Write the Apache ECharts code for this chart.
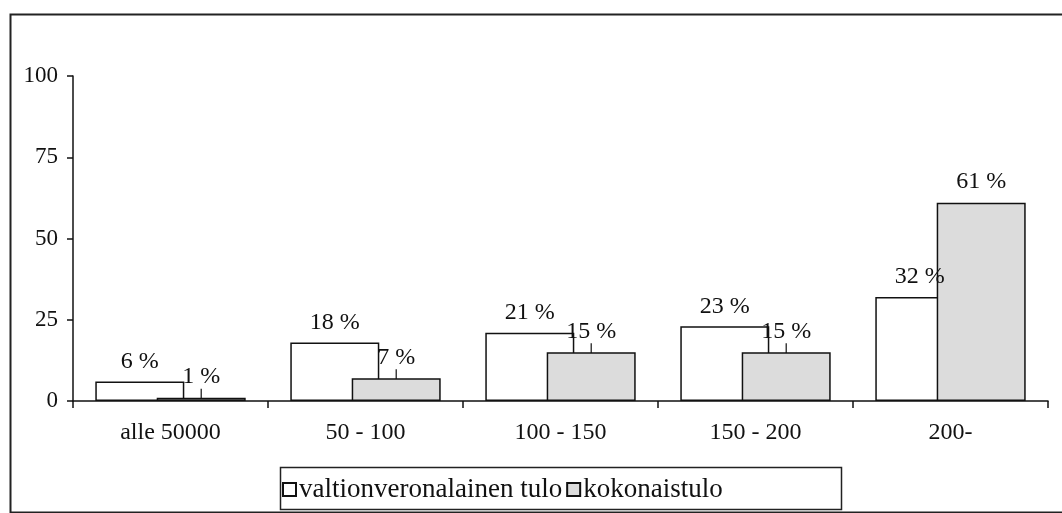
<!DOCTYPE html>
<html>
<head>
<meta charset="utf-8">
<script src="https://cdn.jsdelivr.net/npm/echarts@6/dist/echarts.min.js"></script>
<style>
  html, body { margin: 0; padding: 0; background: #fff; }
  #chart { width: 1062px; height: 513px; }
</style>
</head>
<body>
<div id="chart"></div>
<script>
// income classes (1000 mk)
const categories = ['alle 50000', '50 - 100', '100 - 150', '150 - 200', '200-'];
const seriesNames = ['valtionveronalainen tulo', 'kokonaistulo'];
// share of income, %
const taxableIncome = [6, 18, 21, 23, 32];
const totalIncome = [1, 7, 15, 15, 61];
const yTicks = [0, 25, 50, 75, 100];

const serif = '"Liberation Serif", "Times New Roman", serif';
const chart = echarts.init(document.getElementById('chart'));

const labelStyle = {
  show: true,
  position: 'top',
  distance: 8,
  color: '#111',
  fontFamily: serif,
  fontSize: 24,
  formatter: p => p.value + ' %'
};

chart.setOption({
  animation: false,
  backgroundColor: '#fff',
  grid: { left: 73, right: 14, top: 76, bottom: 112 },
  graphic: [
    { type: 'rect', left: 8, top: 12, shape: { width: 1080, height: 498 },
      style: { fill: 'none', stroke: '#222', lineWidth: 2 }, z: -1 },
    { type: 'rect', left: 278, top: 465, shape: { width: 561, height: 42 },
      style: { fill: 'none', stroke: '#222', lineWidth: 1.5 }, z: -1 }
  ],
  legend: {
    left: 277, top: 471,
    itemWidth: 13, itemHeight: 13, itemGap: 4,
    icon: 'rect',
    textStyle: { fontFamily: serif, fontSize: 27, color: '#111', padding: [0, 0, 0, -2] },
    data: seriesNames
  },
  xAxis: {
    type: 'category',
    data: categories,
    axisLine: { lineStyle: { color: '#111', width: 1.5 } },
    axisTick: { show: true, length: 7, lineStyle: { color: '#111', width: 1.5 } },
    axisLabel: { fontFamily: serif, fontSize: 24, color: '#111', margin: 20 }
  },
  yAxis: {
    type: 'value',
    min: 0, max: 100, interval: 25,
    splitLine: { show: false },
    axisLine: { show: true, lineStyle: { color: '#111', width: 1.5 } },
    axisTick: { show: true, length: 6, lineStyle: { color: '#111', width: 1.5 } },
    axisLabel: {
      fontFamily: serif, fontSize: 23, color: '#111', margin: 15,
      formatter: v => (yTicks.includes(v) ? String(v) : '')
    }
  },
  series: [
    {
      name: seriesNames[0],
      type: 'bar',
      barWidth: 89,
      barGap: '-31%',
      data: taxableIncome,
      itemStyle: { color: '#fff', borderColor: '#111', borderWidth: 1.5 },
      label: labelStyle
    },
    {
      name: seriesNames[1],
      type: 'bar',
      barWidth: 89,
      barGap: '-31%',
      data: totalIncome.map(v => ({ value: v, labelLine: { show: v < 20 } })),
      itemStyle: { color: '#dcdcdc', borderColor: '#111', borderWidth: 1.5 },
      label: labelStyle,
      labelLayout: { dy: -1 },
      labelLine: { lineStyle: { color: '#111', width: 1.2 } }
    }
  ]
});
</script>
</body>
</html>
